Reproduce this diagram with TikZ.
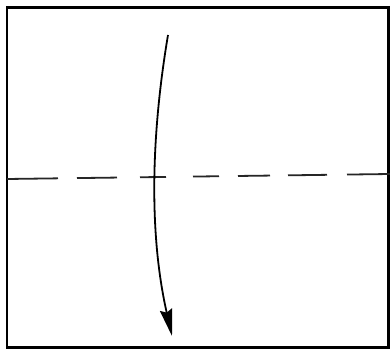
\documentclass[tikz,border=0pt]{standalone}
\usepackage{tikz}
\usetikzlibrary{arrows.meta}

\begin{document}
\begin{tikzpicture}[
  x=0.05cm, y=-0.05cm,
  sheet/.style={draw=black, line width=0.15cm, line join=miter},
  crease/.style={draw=black!85, line width=0.09cm},
  foldarr/.style={draw=black, line width=0.09cm,
                  -{Stealth[length=1.35cm, width=0.62cm, inset=0.15cm]}},
]

\useasboundingbox (0,0) rectangle (390,353);
\fill[white] (0,0) rectangle (390,353);

% ---- paper square --------------------------------------------------------
\draw[sheet] (7,8) rectangle (388,347);

% ---- valley fold line (dashed) ------------------------------------------
\foreach \a/\b in {7/58, 77/117, 140/166, 193/219, 238/270, 288/327, 347/390} {
  \draw[crease] (\a,{179-5*(\a-7)/383}) -- (\b,{179-5*(\b-7)/383});
}

% ---- fold arrow: top edge down to bottom edge ---------------------------
\coordinate (from) at (168,35);
\coordinate (to) at (172,336);
\draw[foldarr] (from) .. controls (152,130) and (148,230) .. (to);

\end{tikzpicture}
\end{document}
